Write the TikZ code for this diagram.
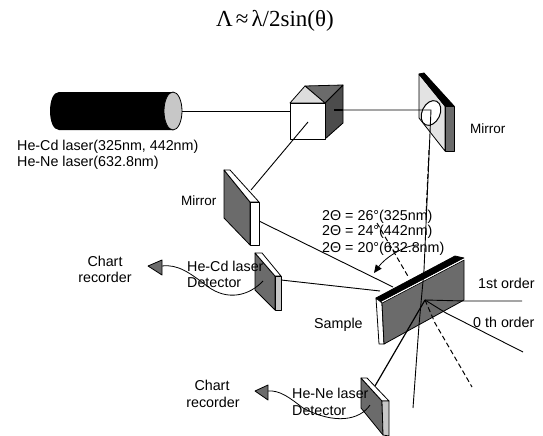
\documentclass[tikz,border=0pt]{standalone}
\usepackage{fontspec}
\setmainfont{Liberation Sans}
\newfontfamily\titlefont{Liberation Serif}
\usetikzlibrary{arrows.meta}
\definecolor{dith}{gray}{0.42}
\definecolor{dithdark}{gray}{0.3}
\definecolor{dithlight}{gray}{0.78}
\tikzset{
  lab/.style={inner sep=0pt,anchor=west,font=\fontsize{14.3}{16}\selectfont,text=black},
  labc/.style={inner sep=0pt,anchor=center,font=\fontsize{14.3}{16}\selectfont,text=black},
  beam/.style={draw=black,line width=0.9pt},
  dashbeam/.style={draw=black,line width=1pt,dash pattern=on 5pt off 3pt},
  part/.style={draw=black,line width=0.8pt,line join=round},
  wire/.style={draw=black,line width=0.8pt},
  tri/.style={part,fill=dith}
}
\begin{document}
\begin{tikzpicture}[x=1pt,y=-1pt]
\useasboundingbox (0,0) rectangle (543,436);
% named beam points
\coordinate (laserout) at (182,111);
\coordinate (cubein) at (290,111);
\coordinate (cubeout) at (343,110);
\coordinate (mirrorR) at (431,110);
\coordinate (cubedown) at (308,122);
\coordinate (mirrorL) at (251,190);
\coordinate (mirrorLout) at (259,221);
\coordinate (hit) at (425,300);
\coordinate (sampleA) at (393,287);
\coordinate (detCd) at (281,280);
\coordinate (sampleB) at (380,291);
\coordinate (first) at (522,301);
\coordinate (zeroS) at (446,313);
\coordinate (zero) at (523,352);
\coordinate (vbeamS) at (424,270);
\coordinate (vbeam2) at (419,325);
\coordinate (vbeamE) at (413,408);
\coordinate (dashA) at (377,223);
\coordinate (dashB) at (409,278);
\coordinate (dashC) at (435,323);
\coordinate (dashD) at (472,387);
\coordinate (detNe) at (375,386);
% laser
\fill[black] (173,92) -- (59,92) .. controls (47,92) and (47,130) .. (59,130) -- (173,130) -- cycle;
\draw[part,fill=dithlight] (173,111) ellipse[x radius=9,y radius=19];
\draw[beam] (laserout) -- (cubein);
% beams behind components
\draw[beam] (mirrorLout) -- (sampleA);
\draw[beam] (detCd) -- (sampleB);
% right mirror
\draw[part,fill=dithlight!50!white] (419,74) -- (445,106) -- (445,151) -- (419,118) -- cycle;
\draw[part,fill=black] (419,74) -- (424,73) -- (454,106) -- (445,106) -- cycle;
\draw[part,fill=dith] (445,106) -- (454,106) -- (454,151) -- (445,151) -- cycle;
\draw[line width=1pt,fill=white,rotate around={-25:(431,113)}] (431,113) ellipse[x radius=9,y radius=13];
\draw[beam] (cubeout) -- (mirrorR) -- (vbeamS);
\draw[dashbeam] (429,150) -- (426,215);
% cube
\draw[part,fill=dithdark] (325,103) -- (343,85) -- (343,123) -- (325,139) -- cycle;
\draw[part,fill=dith] (305,86) -- (343,85) -- (325,103) -- cycle;
\draw[part,fill=dithlight!60!white] (290,103) -- (305,86) -- (325,103) -- cycle;
\draw[part,fill=white] (290,103) rectangle (325,139);
\draw[beam] (mirrorL) -- (cubedown);
\draw[line width=1.4pt] (334,110) -- (343,110);
% left mirror
\draw[part,fill=dith] (224,170) -- (250,202) -- (250,245) -- (224,218) -- cycle;
\draw[part,fill=white] (224,170) -- (230,170) -- (259,202) -- (250,202) -- cycle;
\draw[part,fill=white] (250,202) -- (259,202) -- (259,245) -- (250,245) -- cycle;
% He-Cd detector
\draw[part,fill=dith] (255,253) -- (275,276) -- (275,310) -- (255,290) -- cycle;
\draw[part,fill=white] (255,253) -- (262,253) -- (281,276) -- (275,276) -- cycle;
\draw[part,fill=dithlight] (275,276) -- (281,276) -- (281,310) -- (275,310) -- cycle;
% He-Ne detector
\draw[part,fill=dith] (361,378) -- (382,401) -- (383,435) -- (361,408) -- cycle;
\draw[part,fill=white] (361,378) -- (367,378) -- (389,401) -- (382,401) -- cycle;
\draw[part,fill=dithlight] (382,401) -- (389,401) -- (389,436) -- (383,435) -- cycle;
% incoming rays above the sample
\draw[dashbeam] (dashA) -- (dashB);
% sample
\draw[part,fill=black] (376,298) -- (455,256) -- (464,258) -- (380,302) -- cycle;
\draw[part,fill=white] (376,298) -- (382,303) -- (384,344) -- (379,344) -- cycle;
\draw[part,fill=dith] (382,303) -- (464,260) -- (464,300) -- (384,344) -- cycle;
\draw[white,line width=0.9pt] (382,302) -- (464,259);
% rays on and after the sample
\draw[line width=1.2pt,black] (hit) -- (detNe);
\draw[beam] (hit) -- (465,301) -- (first);
\draw[beam] (hit) -- (zeroS) -- (zero);
\draw[beam] (vbeamS) -- (vbeam2) -- (vbeamE);
\draw[dashbeam] (hit) -- (dashC) -- (dashD);
% angle arrow
\draw[line width=0.8pt,-{Triangle[length=8pt,width=7pt]}] (417,245) .. controls (403,246) and (385,258) .. (374,273);
% recorders
\draw[wire] (263,281) .. controls (250,295) and (228,302) .. (207,286) .. controls (190,273) and (178,264) .. (162,266);
\draw[tri] (148,266) -- (162,260) -- (162,275) -- cycle;
\draw[wire] (370,405) .. controls (360,420) and (335,425) .. (303,408) .. controls (290,398) and (280,390) .. (268,391);
\draw[tri] (255,391) -- (268,385) -- (268,400) -- cycle;
% labels
\node[inner sep=0pt,font=\titlefont\fontsize{23}{25}\selectfont] (title) at (275,21) {Λ\hspace{3pt}≈\hspace{3pt}λ/2sin(θ)};
\node[lab] (l1) at (17,147) {He-Cd laser(325nm, 442nm)};
\node[lab] (l2) at (17,163) {He-Ne laser(632.8nm)};
\node[lab,font=\fontsize{13.5}{15}\selectfont] (m1) at (181,201) {Mirror};
\node[lab,font=\fontsize{13.5}{15}\selectfont] (m2) at (470,129) {Mirror};
\node[lab] (a1) at (322,217) {2Θ = 26°(325nm)};
\node[lab] (a2) at (322,232) {2Θ = 24°(442nm)};
\node[lab] (a3) at (322,249) {2Θ = 20°(632.8nm)};
\node[lab] (o1) at (478,283) {1st order};
\node[lab] (o0) at (473,322) {0 th order};
\node[lab] (s) at (314,325) {Sample};
\node[labc] (c1) at (105,261) {Chart};
\node[labc] (c2) at (105,277) {recorder};
\node[lab] (d1) at (187,266) {He-Cd laser};
\node[lab] (d2) at (187,283) {Detector};
\node[labc] (c3) at (212,385) {Chart};
\node[labc] (c4) at (213,402) {recorder};
\node[lab] (d3) at (292,393) {He-Ne laser};
\node[lab] (d4) at (292,411) {Detector};
\end{tikzpicture}
\end{document}
